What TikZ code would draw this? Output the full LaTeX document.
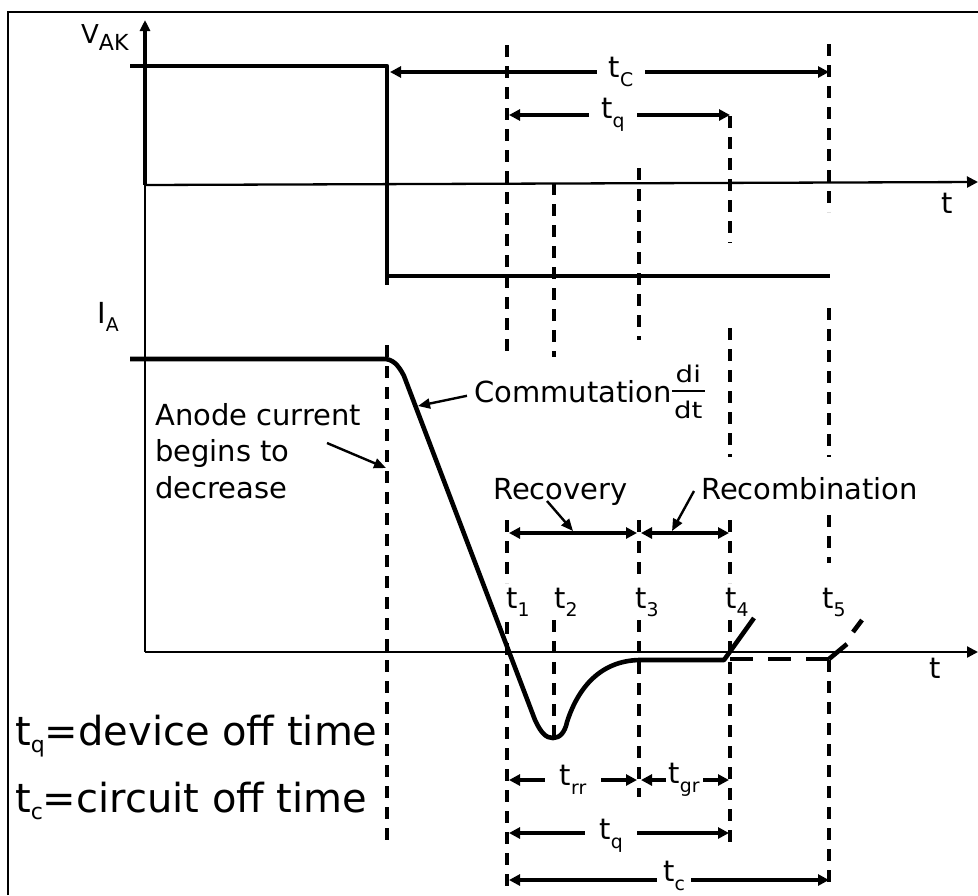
\documentclass[tikz,border=0pt]{standalone}
\usepackage{amsmath}
\usepackage{fontspec}
\setmainfont{DejaVu Sans}
\usepackage{tikz}
\usetikzlibrary{arrows.meta,positioning,calc}
\newcommand{\sbs}[2][.65]{\raisebox{-.3em}{\scalebox{#1}{#2}}}
\newcommand{\sbsbig}[1]{\raisebox{-.18em}{\scalebox{.55}{#1}}}
\newcommand{\didt}{{\fontsize{23}{25}\selectfont\setlength{\arrayrulewidth}{1.8pt}%
  \scalebox{1.2}[1]{$\begin{tabular}{@{\hspace{2pt}}c@{\hspace{2pt}}}di\\\hline\rule{0pt}{27pt}dt\end{tabular}$}}}

\begin{document}
\begin{tikzpicture}[x=1pt,y=-1pt,
  wave/.style={line width=4.6pt,line join=round},
  axisline/.style={line width=2.3pt},
  axisarrow/.style={line width=2.3pt,-{Triangle[length=11pt,width=11pt]}},
  guide/.style={line width=3.5pt,dash pattern=on 12pt off 9pt},
  dimarrow/.style={line width=3.5pt,{Triangle[length=11pt,width=11pt]}-{Triangle[length=11pt,width=11pt]}},
  dimlabel/.style={font=\fontsize{29}{35}\selectfont,fill=white,inner ysep=1pt},
  note/.style={line width=2.4pt,-{Triangle[length=12pt,width=10pt]}},
  lbl/.style={font=\fontsize{29}{35}\selectfont,inner sep=0pt},
  biglbl/.style={font=\fontsize{40}{48}\selectfont,inner sep=0pt,anchor=base west}]

\useasboundingbox (0,0) rectangle (978,895);
\draw[line width=1.6pt] (8,895) |- (978,12);

\foreach \x/\ya/\yb in {387/345/847, 507/45/355, 507/520/583, 507/622/890,
    554/183/357, 554/620/738, 639/168/340, 639/520/580, 639/620/797,
    730/116/243, 730/328/457, 730/520/583, 730/620/842,
    829/44/212, 829/308/457, 829/515/563, 829/660/883}
  \draw[guide] (\x,\ya) -- (\x,\yb);

\coordinate (vo) at (145,185);
\coordinate (io) at (145,652);
\coordinate (vtop) at (145,20);
\coordinate (vend) at (978,182);
\coordinate (iend) at (978,652);
\draw[line width=3.2pt,-{Triangle[length=11pt,width=10pt]}] (vo) -- (vtop);
\draw[axisline] (io) -- (vo);
\draw[axisarrow] (vo) -- (vend);
\draw[axisarrow] (io) -- (iend);

\node[lbl,font=\fontsize{26}{30}\selectfont,anchor=base west] (vak) at (81,43) {V\sbs[.85]{AK}};
\node[lbl,anchor=base west] (ia) at (97,323) {I\sbs{A}};
\node[lbl,anchor=base] (tv) at (947,213) {t};
\node[lbl,anchor=base] (ti) at (935,678) {t};

\draw[wave] (130,66) -- (387,66) -- (387,285);
\draw[wave] (387,276) -- (830,276);
\draw[wave] (130,359) -- (384,359) .. controls (392,359) and (398,364) .. (404,376)
  -- (535,720) .. controls (541,733) and (546,738) .. (553,738)
  .. controls (560,738) and (565,732) .. (567,722)
  .. controls (578,688) and (600,661) .. (639,660) -- (724,660) -- (754,618);
\draw[wave,dash pattern=on 23pt off 15pt] (730,659) -- (829,659);
\draw[wave] (829,659) -- (847,644);
\draw[wave] (853,632) -- (862,620);

\node[lbl,anchor=base] (t1) at (518,608) {t\sbs{1}};
\node[lbl,anchor=base] (t2) at (566,608) {t\sbs{2}};
\node[lbl,anchor=base] (t3) at (647,608) {t\sbs{3}};
\node[lbl,anchor=base] (t4) at (737,608) {t\sbs{4}};
\node[lbl,anchor=base] (t5) at (834,608) {t\sbs{5}};

\coordinate (tcTopL) at (390,72);
\coordinate (tcTopR) at (829,72);
\draw[dimarrow] (tcTopL) -- (tcTopR) node[dimlabel,pos=.526,inner xsep=12pt] (tcTop) {t\sbs{C}};
\coordinate (tqTopL) at (509,115);
\coordinate (tqTopR) at (730,115);
\draw[dimarrow] (tqTopL) -- (tqTopR) node[dimlabel,pos=.47,inner xsep=12pt] (tqTop) {t\sbs{q}};

\coordinate (recovL) at (509,533);
\coordinate (recovR) at (637,533);
\coordinate (recombL) at (641,533);
\coordinate (recombR) at (729,533);
\draw[dimarrow] (recovL) -- (recovR);
\draw[dimarrow] (recombL) -- (recombR);

\coordinate (trrL) at (509,780);
\coordinate (trrR) at (637,780);
\draw[dimarrow] (trrL) -- (trrR) node[dimlabel,pos=.5,inner xsep=15pt] (trr) {t\sbs{rr}};
\coordinate (tgrL) at (641,780);
\coordinate (tgrR) at (729,780);
\draw[dimarrow] (tgrL) -- (tgrR) node[dimlabel,pos=.49,inner xsep=3pt] (tgr) {t\sbs{gr}};
\coordinate (tqBotL) at (509,833);
\coordinate (tqBotR) at (729,833);
\draw[dimarrow] (tqBotL) -- (tqBotR) node[dimlabel,pos=.464,inner xsep=14pt,yshift=-3pt] (tqBot) {t\sbs{q}};
\coordinate (tcBotL) at (509,880);
\coordinate (tcBotR) at (829,880);
\draw[dimarrow] (tcBotL) -- (tcBotR) node[dimlabel,pos=.516,inner xsep=6pt,yshift=4pt] (tcBot) {t\sbs{c}};

\node[lbl,anchor=north west,align=left,font=\fontsize{29}{36.5}\selectfont] (anode) at (155,403)
  {Anode current\\begins to\\decrease};
\coordinate (anodeTail) at (327,443);
\coordinate (anodeHead) at (386,468);
\draw[note] (anodeTail) -- (anodeHead);

\node[lbl,anchor=base west] (comm) at (474,402) {Commutation\didt};
\coordinate (commHead) at (418,406);
\draw[note] ([xshift=-7pt]comm.west) -- (commHead);

\node[lbl,anchor=base west] (recov) at (493,499) {Recovery};
\coordinate (recovTail) at (547,501);
\coordinate (recovHead) at (573,531);
\draw[note] (recovTail) -- (recovHead);

\node[lbl,anchor=base west] (recomb) at (701,499) {Recombination};
\coordinate (recombTail) at (694,491);
\coordinate (recombHead) at (672,531);
\draw[note] (recombTail) -- (recombHead);

\node[biglbl] (tqdef) at (15,745) {t\sbsbig{q}=device off time};
\node[biglbl] (tcdef) at (15,812) {t\sbsbig{c}=circuit off time};
\end{tikzpicture}
\end{document}
